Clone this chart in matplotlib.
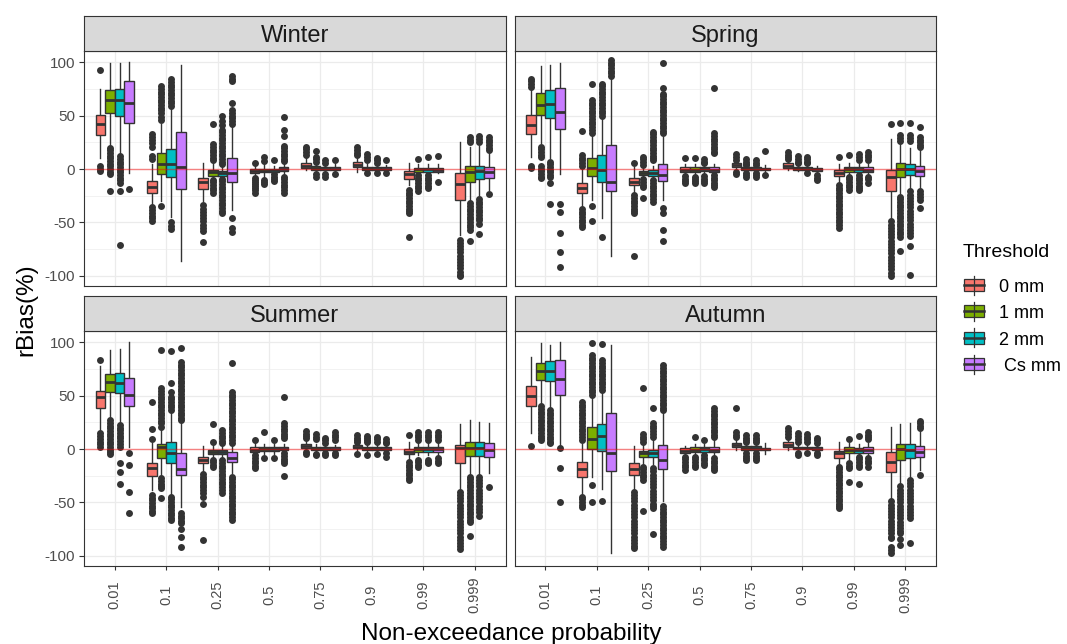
import matplotlib
matplotlib.use("Agg")
import matplotlib.pyplot as plt
from matplotlib.patches import Rectangle
from matplotlib.lines import Line2D

plt.rcParams["font.family"] = ["Liberation Sans", "DejaVu Sans"]

probabilities = ["0.01", "0.1", "0.25", "0.5", "0.75", "0.9", "0.99", "0.999"]
thresholds = ["0 mm", "1 mm", "2 mm", " Cs mm"]
seasons = ["Winter", "Spring", "Summer", "Autumn"]
threshold_colors = ["#F8766D", "#7CAE00", "#00BFC4", "#C77CFF"]

# Box summaries per probability: (lower whisker, Q1, median, Q3, upper whisker)
winter_stats = {
    "0 mm": [(10, 32, 42, 51, 75), (-33, -22, -16.5, -11, 5), (-30, -18.5, -12.5, -8, 5.5),
             (-6, -4, -1.5, 0.5, 3), (-1, 0.6, 3, 5.3, 11), (-2.5, 2.2, 4, 6.2, 10),
             (-15, -9.3, -4.7, -1.9, 5.3), (-62, -29, -14, -4, 25.5)],
    "1 mm": [(21, 52, 65, 74, 99), (-30, -5, 4.4, 14.6, 42), (-13, -6.2, -2.5, -1, 6),
             (-8, -3, -1.5, 0.5, 5), (-4, -0.5, 1, 2.5, 5), (-2, -0.5, 1, 2.2, 5),
             (-4.5, -2.5, -0.3, 1.2, 5), (-30, -11.8, -2.5, 2.8, 21)],
    "2 mm": [(14, 50, 64.5, 75, 99), (-45, -7.2, 4.4, 19, 56), (-8, -6.5, -4, -1.6, 3),
             (-4, -2.5, -1, 0.5, 3), (-3, -1, 0, 1.5, 4), (-2.5, -1, 0.5, 2, 4),
             (-4.5, -2.5, -0.3, 1.2, 5), (-27, -9.7, -1.6, 3.1, 22)],
    " Cs mm": [(-4, 43.3, 61.4, 82.6, 100), (-86.3, -18.7, 2.2, 34.9, 97.8), (-38, -11.8, -4, 10, 40),
               (-5, -1.5, 0, 1.5, 5), (-4, -1, 0, 1.5, 5), (-2.5, -1, 0.3, 1.5, 4),
               (-4, -2.5, -0.5, 1.2, 5), (-20, -8.1, -3.1, 2.2, 15)],
}
winter_outliers = {
    "0 mm": [[92.5, 3, 0.5, -2],
             [33, 30, 27, 24, 21, 12, 9, -36, -38.5, -41, -43.5, -46, -48.5],
             [-34, -37, -40, -43, -46, -49, -52, -55, -58, -68.5],
             [6, -8, -10, -12, -14, -16, -18, -20, -22],
             [21, 18.5, 16, 13.5],
             [21, 18, 15, 13],
             [-19.6, -22, -24.5, -27, -29.5, -32, -34.5, -37, -39.5, -41.5, -64],
             [-66, -69, -72, -75, -78, -81, -84, -87, -90, -93, -96, -99, -100.5]],
    "1 mm": [[20, 17.5, 15, 12.5, 10, 7.5, 5, 2.5, 0, -2.5, -5, -20.6],
             [77.6, 75, 72.5, 70, 67.5, 65, 62.5, 60, 57.5, 55, 52, 49, 46, -35],
             [42, 23, 20.5, 18, 15.5, 13, 10.5, 8, -10, -12.5, -15, -17.5, -20, -22.5],
             [11, 7.5, -10, -12, -14],
             [17, 11, 9, 7, -5, -7],
             [14, 11, 8.4, -4],
             [9.7, -5.6, -8, -10.5, -13, -15.5, -18, -21],
             [30, 27.5, 25, -32, -34.5, -37, -39.5, -42, -44.5, -47, -49.5, -52, -54.5, -57, -67]],
    "2 mm": [[12, 9.5, 7, 4.5, 2, -0.5, -3, -5.5, -8, -10.5, -13, -20.6, -71],
             [84, 81.5, 79, 76.5, 74, 71.5, 69, 66.5, 64, 61.5, 59, -50, -53, -56],
             [50, 45, 41.5, 37, 34.5, 32, 29.5, 27, 24.5, 22, 19.5, 17, 14.5, 12, 9.5, 7, 5,
              -9, -11.5, -14, -16.5, -19, -21.5, -24, -26.5, -29, -31.5, -34, -36.5, -39, -41.4],
             [8, -5, -7, -9, -11],
             [8, 6, -5, -7],
             [10, 8, 5.5, -4],
             [11.5, -5.6, -8, -10.5, -13, -15.5, -18],
             [30.8, 28, 25.5, -28, -30.5, -33, -35.5, -38, -40.5, -43, -45.5, -48, -51, -61]],
    " Cs mm": [[-18.4],
               [],
               [87, 84, 82, 62, 55, 52.5, 50, 47.5, 45, 42, -46, -55.5, -58.5],
               [48.9, 37, 31, 22, 19.5, 17, 14.5, 12, 9.5, 7.5, -7, -9.5, -12, -14.5, -17, -19.5, -22],
               [8, -5],
               [8.4, -4],
               [12, -12],
               [30, 27.5, 25, 22.5, 20, 17.8, -23.4]],
}

spring_stats = {
    "0 mm": [(11.5, 32.7, 41.4, 50.5, 74), (-35, -22.1, -17.4, -12.8, 1), (-23, -15.3, -11.8, -8.1, 2),
             (-5, -2.5, -0.5, 1.6, 5), (0, 1.6, 3.4, 5.3, 8), (-1, 1.2, 3, 5.3, 7.5),
             (-14, -6.5, -4, -0.9, 4.7), (-47.7, -20.2, -7.2, -0.9, 27.7)],
    "1 mm": [(24, 50.5, 60.4, 71.3, 96.6), (-29, -6.5, 1.2, 10, 33), (-7.5, -5.6, -3.4, -1.6, 2),
             (-5, -2.5, -0.5, 1.5, 4.5), (-3.5, -0.5, 1, 2, 3), (-2, -0.5, 0.8, 1.6, 4),
             (-5.5, -2.5, 0, 2.2, 6), (-24, -7.2, -0.3, 5.3, 23)],
    "2 mm": [(10, 47.4, 60.7, 73.8, 97.8), (-46, -11.8, -0.9, 12.8, 47), (-8.5, -6.2, -3.4, -0.9, 3),
             (-4.5, -2, -0.3, 1.5, 4), (-3, -0.8, 0.5, 1.5, 3), (-3, -1, 0.5, 1.5, 4),
             (-5, -2.5, -0.3, 1.5, 5), (-20, -5.6, -0.3, 4.7, 20)],
    " Cs mm": [(-5, 37.7, 53, 76.3, 99.7), (-81.3, -20.6, -11.8, 22.1, 84), (-29, -11.2, -5.6, 4.4, 30),
               (-5, -2.5, -0.5, 1.5, 5), (-4, -1, 0, 1, 4), (-3, -1.5, -0.3, 1, 3),
               (-5, -2.5, -0.5, 1.5, 5), (-19, -6.2, -1.6, 3.1, 18)],
}
spring_outliers = {
    "0 mm": [[84.7, 82, 79.5, 77, 3, 0.6],
             [35.5, 13, 10.5, 8, 5.5, 3, -37.7, -40, -42.5, -45, -47.5, -50, -52.5, -54],
             [5.9, -24.3, -27, -29.5, -32, -34.5, -37, -39.5, -41.4, -81],
             [10, -6.5, -9, -11, -13.4],
             [14, 11, 8.4, -2.5, -4.7],
             [16, 13.5, 11, 9],
             [11.5, -15, -17.5, -20, -22.5, -25, -27.5, -30, -32.5, -35, -37.5, -40, -42.5, -45,
              -47.5, -50, -52.5, -55.5],
             [41.7, -49, -52, -55, -58, -61, -64, -67, -70, -73, -76, -79, -82, -85, -88, -91,
              -94, -97, -100.6]],
    "1 mm": [[21, 18.5, 16, 13.5, 11, 3, 0.5, -2, -4.5, -7, -8.7],
             [79.4, 64.5, 62, 59.5, 57, 54.5, 52, 49.5, 47, 44.5, 42, 39.5, 37, 34, -35, -49],
             [11.5, 9, 6.5, 4, -9.5, -12, -14.5, -16.5, -26.8],
             [10, -7, -9, -11, -12.8],
             [9, 7, 5, 3.7, -4, -5.5, -7],
             [12, 9.5, 7, 5.3],
             [13, -7, -9.5, -12, -14.5, -17, -19.6],
             [43.3, 31.8, 29, 26.5, -25.9, -28.5, -31, -33.5, -36, -38.5, -41, -43.5, -46, -48.5,
              -51, -53.5, -56, -58.5, -61, -64, -77]],
    "2 mm": [[6.9, 4.5, 2, -0.5, -3, -5.5, -7, -12.8, -32.7],
             [80, 77.5, 75, 72.5, 70, 67, 64.5, 62, 59.5, 57, 54.5, 52, 49.5, -63.9],
             [34.9, 32.5, 30, 27.5, 25, 22.5, 20, 17.5, 15, 12.5, 10, 8.4, -10.3, -13, -15.5, -18,
              -20.5, -23, -25.5, -28, -30.5],
             [9, 7, 5.3, -6.5, -9, -11, -13],
             [8.5, 6, 4, -4, -5.5, -7],
             [11.5, 9, 7, 5.3, -4],
             [14, 11, 8.4, -5.6, -8, -10.5, -13, -15.5, -18, -19.6],
             [42.7, 31.8, 29, 26.5, -21, -24, -27, -30, -33, -36, -39, -42, -45, -48, -51, -54,
              -57, -60, -63, -72, -99]],
    " Cs mm": [[-33, -40, -60, -78, -92],
               [101.9, 99.5, 97, 94.5, 92, 89.5, 87],
               [98.8, 75.4, 70.7, 68, 65.5, 63, 60.5, 58, 55.5, 53, 50.5, 48, 45.5, 43, 40.5, 38,
                35.5, 33.3, -36.8, -41.4, -57, -67],
               [76, 33.3, 31, 28.5, 26, 23.5, 21, 18.5, 16, 14.6, -5.6, -8, -10.5, -13, -15, -16.5],
               [16.8, -5.6],
               [-5.6, -8, -10.3],
               [16, 13.5, 11, 8.4, -7, -9.5, -12.8],
               [39, 30, 27.5, 25, 22.5, 21, -21, -23.5, -26, -29, -36.1]],
}

summer_stats = {
    "0 mm": [(16.2, 38.6, 48.3, 54.5, 77.6), (-38, -24.9, -18, -12.8, 5.3), (-22, -13.4, -10.3, -7.2, 2.8),
             (-5, -2.5, -0.5, 2.2, 6), (-1.5, 0.6, 2.5, 4.7, 7.5), (-2, 0.6, 2, 3.7, 6),
             (-10, -4.7, -2.5, -0.3, 6.9), (-38, -13.4, 0.6, 4, 23.4)],
    "1 mm": [(28.7, 53, 62.3, 70, 93.1), (-25, -8.1, 2.2, 4.7, 20), (-9, -4.7, -2.5, -0.9, 4),
             (-5, -2, 0, 2, 5), (-3, -1, 0.5, 2, 5), (-3, -1, 0.5, 2, 5),
             (-6, -2.5, 0, 1.6, 6), (-24, -6.5, 0.6, 6.9, 27.1)],
    "2 mm": [(24, 52, 61.4, 71.3, 94), (-42, -13.4, -4, 6.9, 35), (-8, -4.7, -2.5, -1, 4),
             (-5, -2, 0, 2, 5), (-3, -1, 0.5, 1.5, 4), (-3, -1, 0.5, 2, 4.5),
             (-6, -2.5, 0, 1.6, 6), (-24, -6.2, 1.2, 6.9, 25.5)],
    " Cs mm": [(2, 40.2, 50.5, 66.7, 100), (-53.9, -24.3, -18.7, -3.4, 24), (-22, -12.1, -8.7, -2.8, 4),
               (-3, -1, 0, 1.5, 5), (-3, -1, 0.5, 1.5, 4), (-3, -1, 0.5, 1.5, 4),
               (-6, -2.5, -0.3, 1.6, 6), (-22.7, -7.2, -0.9, 5.3, 24)],
}
summer_outliers = {
    "0 mm": [[83.2, 14.6, 12, 9.5, 7, 4.5, 2.2],
             [44.2, 19, 9, -43, -45.5, -48, -50.5, -53, -55.5, -58, -60],
             [-23.7, -26, -28.5, -31, -33.5, -36, -38.5, -41, -44.5, -51.7, -85],
             [8.4, -6, -8.5, -11, -13.5, -16, -18],
             [17, 14.5, 12, 10, -2.5, -4.7],
             [13, 10.5, 8.4, 6.9, -4.7],
             [13, -12, -14.5, -17, -19.5, -22, -24.5, -27, -29],
             [-40, -43, -46, -49, -52, -55, -58, -61, -64, -67, -70, -73, -76, -79, -82, -85, -88,
              -91, -94]],
    "1 mm": [[27, 24.5, 22, 19.5, 17, 14.5, 12, 9.5, 7, 4.5, 2, -0.5, -3, -4.7],
             [92.5, 56.7, 54, 51.5, 49, 46.5, 44, 41.5, 39, 36.5, 34, 31.5, 29, 26.5, 24, 21,
              -27.4, -30, -32.5, -35, -36.8, -46.1],
             [23, 6.9, -10, -12, -14.5, -16.5],
             [16.2, -8.7],
             [14, 11.5, 9, -4.5, -6],
             [12, 10, 8, 6.9, -5.6],
             [16, 13.5, 11, 8.4, -10.3, -12.5, -14.5, -16.5],
             [-25.9, -28.5, -31, -33.5, -36, -38.5, -41, -43.5, -46, -48.5, -51, -53.5, -56, -58.5,
              -61, -63.5, -66, -67.9, -81.3]],
    "2 mm": [[22.4, 20, 17.5, 15, 12.5, 10, 7.5, 5, 2.2, -12.8, -21.8, -32.7],
             [91.6, 62, 53, 48.9, 46.5, 44, 41.5, 39, 36.4, -44.5, -47, -49.5, -52, -54.5, -57,
              -59.5, -62, -64.5, -66.4],
             [17.8, 15, 12.5, 10, 7.5, 5.3, -10.3, -13, -15.5, -18, -20.5, -23, -25.5, -28, -30.5,
              -33, -35.5, -38, -41.4],
             [8.4, -8.7],
             [10, 8.4, 6, -3.5, -5.6],
             [11.5, 9, 6.9, -4.7],
             [16, 13.5, 11, 8.4, -10.3, -12.5, -13.4],
             [-26, -29, -32, -35, -38, -41, -44, -47, -50, -53, -56, -59, -63]],
    " Cs mm": [[-3.4, -15.3, -40.2, -59.5],
               [95, 81.6, 79, 76.5, 74, 71.5, 69, 66.5, 64, 61.5, 59, 56.5, 54, 51.5, 49, 46.5, 44,
                41.5, 39, 36.5, 34, 31.5, 29, 27.1, -60, -62.5, -65, -67.5, -69.5, -75, -82, -92],
               [80.7, 53.6, 51, 48.5, 46, 43.5, 41, 38.5, 36, 33.5, 31, 28.5, 26, 23.5, 21, 18.5,
                16, 13.5, 11, 8.5, 5.5, -25.9, -28.5, -31, -33.5, -36, -38.5, -41, -43.5, -46,
                -48.5, -51, -53.5, -56, -58.5, -61, -63.5, -66.4],
               [48.9, 24, 21.5, 19, 16.5, 14, 12, 10, -4, -6.5, -9, -11, -13.4, -24.9],
               [16.2, 13.5, 11, 8.4, -3.5, -5.6],
               [9, 7, 5.3, -4, -7],
               [16, 13.5, 11, 8.4, -8.7, -11, -13.4],
               [-35.2]],
}

autumn_stats = {
    "0 mm": [(15.3, 40.2, 49.5, 59.2, 85.7), (-42, -25.9, -18.7, -11.8, 5), (-38, -24.3, -18.4, -12.8, 3.1),
             (-6, -4, -2, 0.6, 3), (-0.5, 2.2, 4, 5.9, 8), (-1, 2.2, 4, 6.2, 10),
             (-14, -8.7, -4, -1.9, 6.9), (-47, -21.2, -11.8, -3.1, 20.9)],
    "1 mm": [(41, 64.5, 73.2, 80.7, 98.8), (-25.9, -0.3, 9, 20.2, 50), (-14, -7.2, -3.4, -1.6, 5),
             (-5, -2.5, -0.5, 2.2, 5), (-3, -0.5, 1, 2.8, 5), (-3, -0.3, 1, 2.2, 5),
             (-9, -3.4, -1, 1.6, 6), (-33, -10.3, -0.3, 4.7, 23.4)],
    "2 mm": [(38, 63.9, 73.2, 82.2, 97.2), (-37.7, -1.6, 12.5, 23.4, 55), (-14, -7.8, -4, -0.9, 8),
             (-5, -2.5, -0.3, 1.6, 5), (-3, -0.5, 1, 2.5, 5), (-3, -0.3, 1, 2.2, 5),
             (-6, -3.4, -1, 1.2, 5), (-27, -8.7, -0.9, 4.7, 24.6)],
    " Cs mm": [(3.7, 50.5, 65.4, 83.2, 100), (-97.5, -20.6, -3.4, 33.3, 97.2), (-49, -19, -10.3, 3.7, 35),
               (-6, -2.5, -0.5, 1.6, 8), (-5, -1, 0, 1, 6), (-3, -0.5, 0.5, 1.5, 4),
               (-6, -3.4, -1, 2.2, 6), (-19.6, -7.8, -2.5, 2.8, 17)],
}
autumn_outliers = {
    "0 mm": [[2.8],
             [44.2, 41.5, 39, 36.5, 34, 31.5, 29, 26.5, 24, 21.5, 19, 16.5, 14, 11.5, 8.4,
              -44.5, -47, -49.5, -52, -53.9],
             [-40, -43, -46, -49, -52, -55, -58, -61, -64, -67, -70, -73, -76, -79, -82, -85, -88,
              -91, -92.8],
             [-7, -9.5, -12, -14.5, -17, -19.6],
             [38.6, 16.2, 13.5, 11],
             [20, 17, 14, 11.5],
             [-16.5, -19, -21.5, -24, -26.5, -29, -31.5, -34, -36.5, -39, -41.5, -44, -46.5, -49,
              -51.5, -53.5, -55.5],
             [-49, -52, -55, -58, -61, -64, -67, -70, -73, -76, -79, -82, -83.5, -92, -94.5, -97.5]],
    "1 mm": [[40, 37.5, 35, 32.5, 30, 27.5, 25, 22.5, 20, 17.5, 15, 12.5, 10, 8.4],
             [99.7, 87.9, 85.5, 83, 80.5, 78, 75.5, 73, 70.5, 68, 65.5, 63, 60.5, 58, 55.5, 53,
              50.5, -33.6, -49.8],
             [56.7, 14, 11.5, 9, 6.5, -16.5, -19, -21.5, -24, -26.5, -29, -58],
             [11.5, -7, -9.5, -12, -14.5, -16.5],
             [13, 10.5, 8, 6.9, -4, -6.5, -8.5, -10.3],
             [14.6, 12, 9.5, 6.9, -4, -6],
             [9, -13.4, -15.5, -18, -31.2],
             [-35, -38, -41, -44, -47, -50, -53, -56, -59, -62, -65, -68, -71, -74, -77, -78.8,
              -84, -89.7]],
    "2 mm": [[36.4, 34, 31.5, 29, 26.5, 24, 21.5, 19, 16.5, 14, 11.5, 9, 6.5, 5.3],
             [98.1, 83.2, 80.5, 78, 75.5, 73, 70.5, 68, 65.5, 63, 60.5, 58, 55.5, -48.6],
             [38, 24.6, 22, 19.5, 17, 14.5, 11.5, -18, -21, -24, -27, -30, -33, -36, -39, -42, -45,
              -48, -51, -53.5, -55.5, -79.4],
             [8.4, -5.6, -8, -10.5, -13, -15],
             [13, 10.5, 8, 6.9, -4, -6.5, -8.5, -10.3],
             [14, 11.5, 9, 6.9, -4],
             [12, -7, -9.5, -12, -14.5, -16.5, -33],
             [-29, -32, -35, -38, -41, -44, -47, -50, -53, -56, -59, -62, -64.8, -87.5]],
    " Cs mm": [[1.2, -18, -49.2],
               [],
               [78.5, 76, 73.5, 71, 68.5, 66, 63.5, 61, 58.5, 56, 53.5, 51, 48.5, 46, 43.5, 41,
                38.5, 36.4, -53.3, -56, -58.5, -61, -63.5, -66, -68.5, -71, -73.5, -76, -78.5, -81,
                -83.5, -86, -88.5, -91.3],
               [38, 35.5, 33, 30.5, 28, 25.5, 23, 20.5, 18, 15.5, 13, 11.5, -8.7, -11, -13.5, -16,
                -18, -19.6],
               [],
               [10, 8, 5.3, -4, -5.6],
               [16.2, 13.5, 11, 9, -8.7, -11, -13.5, -16.5],
               [26.5, 24, 21.5, 19.3, -24.3]],
}

season_data = {
    "Winter": (winter_stats, winter_outliers),
    "Spring": (spring_stats, spring_outliers),
    "Summer": (summer_stats, summer_outliers),
    "Autumn": (autumn_stats, autumn_outliers),
}

# ---- styling ----
W, H = 1067, 644
EDGE = "#333333"
GRID = "#EBEBEB"
TICK_TXT = "#4D4D4D"
DODGE = 0.1875
BOX_W = 0.1875

fig = plt.figure(figsize=(W / 100, H / 100), dpi=100)


def px_axes(x0, y0, x1, y1):
    return fig.add_axes([x0 / W, 1 - y1 / H, (x1 - x0) / W, (y1 - y0) / H])


panel_cols = [(84, 505.5), (514.5, 936)]
panel_rows = [(16, 51, 286), (296, 331, 566)]


def draw_panel(ax, stats, outliers):
    for j, th in enumerate(thresholds):
        box_stats = []
        for i in range(len(probabilities)):
            lo, q1, med, q3, hi = stats[th][i]
            box_stats.append(dict(whislo=lo, q1=q1, med=med, q3=q3, whishi=hi,
                                  fliers=outliers[th][i]))
        pos = [i + 1 + (j - 1.5) * DODGE for i in range(len(probabilities))]
        ax.bxp(box_stats, positions=pos, widths=BOX_W, patch_artist=True,
               showcaps=False, manage_ticks=False,
               boxprops=dict(facecolor=threshold_colors[j], edgecolor=EDGE,
                             linewidth=1.0, zorder=3),
               medianprops=dict(color=EDGE, linewidth=2.0, solid_capstyle="butt", zorder=3.1),
               whiskerprops=dict(color=EDGE, linewidth=1.0, zorder=2.9),
               flierprops=dict(marker="o", markerfacecolor=EDGE, markeredgecolor="none",
                               markersize=5.0, zorder=2.8))
    ax.axhline(0, color="red", alpha=0.45, lw=1.0, zorder=5)


for k, season in enumerate(seasons):
    r, c = divmod(k, 2)
    x0, x1 = panel_cols[c]
    s0, s1, p1 = panel_rows[r]
    ax = px_axes(x0, s1, x1, p1)
    stats, outliers = season_data[season]
    draw_panel(ax, stats, outliers)

    ax.set_xlim(0.4, len(probabilities) + 0.6)
    ax.set_ylim(-109.5, 110.5)
    ax.set_yticks([-100, -50, 0, 50, 100])
    ax.set_yticks([-75, -25, 25, 75], minor=True)
    ax.set_xticks(range(1, len(probabilities) + 1))
    ax.set_axisbelow(True)
    ax.grid(which="major", color=GRID, lw=0.9)
    ax.grid(which="minor", axis="y", color=GRID, lw=0.45)
    ax.tick_params(which="minor", left=False, bottom=False)
    for sp in ax.spines.values():
        sp.set_color(EDGE)
        sp.set_linewidth(0.8)
        sp.set_zorder(6)
    ax.tick_params(axis="y", which="major", length=3.4, width=0.8, color=EDGE, pad=3.0,
                   labelsize=11, labelcolor=TICK_TXT)
    ax.tick_params(axis="x", which="major", length=3.0, width=0.8, color=EDGE, pad=17.5,
                   labelsize=10.5, labelcolor=TICK_TXT)
    ax.set_yticklabels(["-100", "-50", "0", "50", "100"])
    ax.set_xticklabels(probabilities, rotation=90, va="center", ha="center")
    if c == 1:
        ax.tick_params(axis="y", which="major", left=False, labelleft=False)
    if r == 0:
        ax.tick_params(axis="x", which="major", bottom=False, labelbottom=False)

    strip = px_axes(x0, s0, x1, s1)
    strip.set_facecolor("#D9D9D9")
    strip.set_xticks([])
    strip.set_yticks([])
    for sp in strip.spines.values():
        sp.set_color(EDGE)
        sp.set_linewidth(0.8)
    strip_h = s1 - s0
    strip.text(0.5, (strip_h - 25.7) / strip_h, season, transform=strip.transAxes,
               ha="center", va="baseline", fontsize=17, color="#1A1A1A")

# axis titles
fig.text(26 / W, 1 - 310 / H, "rBias(%)", rotation=90, ha="center", va="center",
         fontsize=17.5, color="black")
fig.text(511 / W, 1 - 640.4 / H, "Non-exceedance probability", ha="center", va="baseline",
         fontsize=17.5, color="black")

# legend
leg = fig.add_axes([0, 0, 1, 1], facecolor="none")
leg.set_xlim(0, W)
leg.set_ylim(H, 0)
leg.axis("off")
leg.text(962.5, 257.3, "Threshold", ha="left", va="baseline", fontsize=14, color="black")
for j, (label, col) in enumerate(zip(thresholds, threshold_colors)):
    cy = 285 + j * 26.4
    leg.add_line(Line2D([974.2, 974.2], [cy - 9.5, cy + 9.5], color=EDGE, lw=0.9))
    leg.add_patch(Rectangle((964, cy - 6), 20.4, 12, facecolor=col, edgecolor=EDGE, lw=0.9))
    leg.add_line(Line2D([964, 984.4], [cy, cy], color=EDGE, lw=1.8))
    leg.text(999, cy + 6.8, label, ha="left", va="baseline", fontsize=13, color="black")

fig.savefig("out.png", dpi=100)
